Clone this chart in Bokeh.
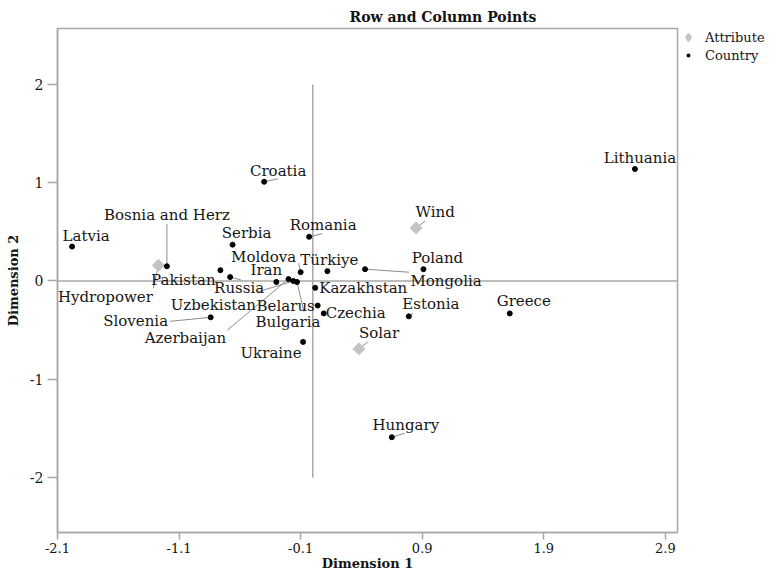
import numpy as np
from bokeh.plotting import figure
from bokeh.models import (Range1d, Legend, LegendItem, FixedTicker,
                          ColumnDataSource, Title)
from bokeh.core.properties import value
from bokeh.embed import file_html
from bokeh.resources import INLINE

# ---------------- data ----------------
countries = ["Lithuania", "Croatia", "Romania", "Latvia", "Bosnia and Herz",
             "Serbia", "Pakistan", "Russia", "Iran", "Moldova", "Türkiye",
             "Mongolia", "Poland", "Kazakhstan", "Belarus", "Uzbekistan",
             "Azerbaijan", "Bulgaria", "Czechia", "Estonia", "Greece",
             "Slovenia", "Ukraine", "Hungary"]
country_dim1 = [2.65, -0.40, -0.03, -1.98, -1.20, -0.66, -0.76, -0.68, -0.30,
                -0.10, 0.12, 0.43, 0.91, 0.02, 0.04, -0.16, -0.20, -0.13,
                0.09, 0.79, 1.62, -0.84, -0.08, 0.65]
country_dim2 = [1.14, 1.01, 0.45, 0.35, 0.15, 0.37, 0.11, 0.04, -0.01, 0.09,
                0.10, 0.12, 0.12, -0.07, -0.25, 0.00, 0.02, -0.01, -0.33,
                -0.36, -0.33, -0.37, -0.62, -1.59]

attributes = ["Hydropower", "Wind", "Solar"]
attr_dim1 = [-1.27, 0.85, 0.38]
attr_dim2 = [0.16, 0.54, -0.69]

x_ticks = [-2.1, -1.1, -0.1, 0.9, 1.9, 2.9]
x_tick_labels = ["-2.1", "-1.1", "-0.1", "0.9", "1.9", "2.9"]
y_ticks = [-2, -1, 0, 1, 2]
y_tick_labels = ["-2", "-1", "0", "1", "2"]

# ---------------- label layout (pixel offsets, y downward) ----------------
country_lab_dx = [5, 14, 14, 14, 0, 14, -37, 9, -10, -37, 2, 81, 14, 48, -32,
                  -80, -103, -9, 32, 22, 14, -75, -32, 14]
country_lab_dy = [-11, -11, -12, -11, -51, -12, 10, 11, -12, -15, -11, 12, -11,
                  0, 0, 24, 59, 40, 0, -12, -12, 4, 11, -12]
# leader line end points (pixel offsets from the point), None = no leader
country_leader = [None, (14, -3), (13, -3), None, (0, -42), None, None,
                  (11, 3), None, (-2, -9), None, (44, 3), None, None, (-5, 0),
                  (-36, 11), (-61, 51), (7, 30), None, (4, -3), None,
                  (-41, 4), None, (13, -4)]
attr_lab_dx = [-53, 19, 20]
attr_lab_dy = [32, -16, -16]
attr_leader = [(-5, 23), (9, -7), (9, -7)]

# ---------------- figure ----------------
X0, X1 = -2.1, 3.0
Y0, Y1 = -2.56, 2.57
FW, FH = 620, 504
px_x = FW / (X1 - X0)
px_y = FH / (Y1 - Y0)

SERIF = "DejaVu Serif"
GRAY = "#A8A8A8"
TXT = "#151515"

p = figure(frame_width=FW, frame_height=FH, x_range=Range1d(X0, X1),
           y_range=Range1d(Y0, Y1), output_backend="svg",
           toolbar_location=None, min_border_left=57, min_border_right=70,
           min_border_top=28, min_border_bottom=43)
p.title = Title(text="Row and Column Points", align="left", offset=292,
                text_font=SERIF, text_font_style="bold",
                text_font_size="14px", text_color=TXT, standoff=8)
p.grid.visible = False
p.outline_line_color = GRAY
p.outline_line_width = 1.5
p.background_fill_color = "white"
p.border_fill_color = "white"

for ax in (p.xaxis[0], p.yaxis[0]):
    ax.axis_line_color = GRAY
    ax.axis_line_width = 1.5
    ax.major_tick_line_color = GRAY
    ax.major_tick_line_width = 1.5
    ax.major_tick_in = 0
    ax.minor_tick_line_color = None
    ax.major_label_text_font = SERIF
    ax.major_label_text_color = TXT
    ax.axis_label_text_font = SERIF
    ax.axis_label_text_font_style = "bold"
    ax.axis_label_text_font_size = "13px"
    ax.axis_label_text_color = TXT

p.xaxis.ticker = FixedTicker(ticks=x_ticks)
p.yaxis.ticker = FixedTicker(ticks=y_ticks)
p.xaxis.major_label_overrides = dict(zip(x_ticks, x_tick_labels))
p.yaxis.major_label_overrides = dict(zip(y_ticks, y_tick_labels))
p.xaxis.axis_label = "Dimension 1"
p.yaxis.axis_label = "Dimension 2"
p.xaxis.major_label_text_font_size = "13px"
p.yaxis.major_label_text_font_size = "14px"
p.xaxis.major_tick_out = 7
p.yaxis.major_tick_out = 10
p.xaxis.major_label_standoff = 3
p.xaxis.axis_label_standoff = 0
p.yaxis.major_label_standoff = 4
p.yaxis.axis_label_standoff = 6

# reference lines through the origin
p.line(x=[X0, X1], y=[0, 0], line_color=GRAY, line_width=1.5)
p.line(x=[0, 0], y=[y_ticks[0], y_ticks[-1]], line_color=GRAY, line_width=1.5)

# leader lines
def leaders(xs, ys, ends):
    x0s, y0s, x1s, y1s = [], [], [], []
    for x, y, e in zip(xs, ys, ends):
        if e is None:
            continue
        x0s.append(x); y0s.append(y)
        x1s.append(x + e[0] / px_x); y1s.append(y - e[1] / px_y)
    return x0s, y0s, x1s, y1s

cx0, cy0, cx1, cy1 = leaders(country_dim1, country_dim2, country_leader)
ax0, ay0, ax1, ay1 = leaders(attr_dim1, attr_dim2, attr_leader)
p.segment(x0=cx0 + ax0, y0=cy0 + ay0, x1=cx1 + ax1, y1=cy1 + ay1,
          line_color="#8C8C8C", line_width=1)

# points
csrc = ColumnDataSource(dict(x=country_dim1, y=country_dim2, name=countries,
                             dx=country_lab_dx, dy=country_lab_dy))
asrc = ColumnDataSource(dict(x=attr_dim1, y=attr_dim2, name=attributes,
                             dx=attr_lab_dx, dy=attr_lab_dy))

ATTR_C = "#C4C4C4"
p.scatter("x", "y", source=asrc, marker="square", angle=np.pi / 4,
          size=8.5, fill_color=ATTR_C, line_color=ATTR_C)
p.scatter("x", "y", source=csrc, marker="circle", size=5,
          fill_color="black", line_color="black")

for src in (csrc, asrc):
    p.text("x", "y", text="name", source=src, x_offset="dx", y_offset="dy",
           text_align="center", text_baseline="middle",
           text_font=value(SERIF), text_font_size="15px", text_color=TXT)

# legend proxies (NaN positions, never drawn in the plot)
leg_attr = p.scatter(x=[np.nan], y=[np.nan], marker="diamond",
                     fill_color=ATTR_C, line_color=ATTR_C, line_width=2)
leg_cty = p.scatter(x=[np.nan], y=[np.nan], marker="circle",
                    fill_color="black", line_color="white", line_width=3.2)

legend = Legend(items=[LegendItem(label="Attribute", renderers=[leg_attr]),
                       LegendItem(label="Country", renderers=[leg_cty])],
                location="top_left", margin=0, padding=0, spacing=0,
                glyph_width=22, glyph_height=18, label_height=18,
                label_standoff=6, border_line_color=None,
                background_fill_alpha=0, label_text_font=SERIF,
                label_text_font_size="13px", label_text_color=TXT)
p.add_layout(legend, "right")

open("out.html", "w").write(file_html(p, INLINE))
